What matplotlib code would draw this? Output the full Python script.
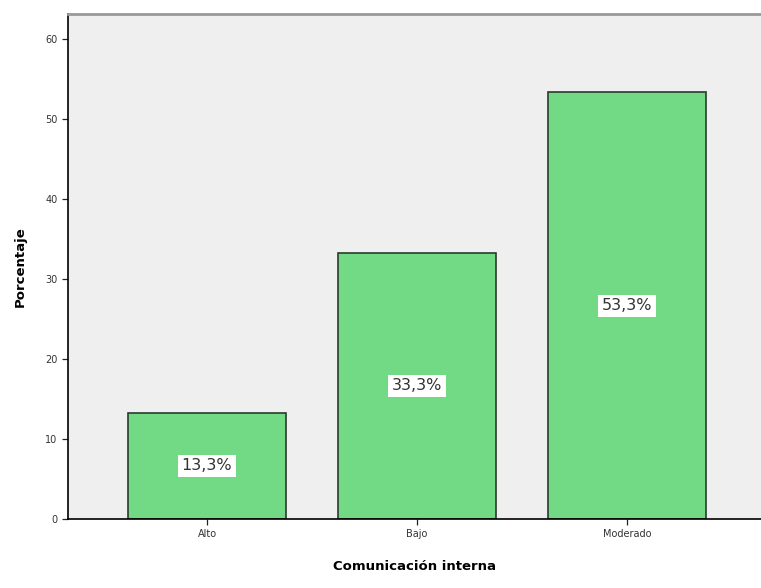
import matplotlib.pyplot as plt

categorias = ['Alto', 'Bajo', 'Moderado']
porcentajes = [13.3, 33.3, 53.3]
yticks = [0, 10, 20, 30, 40, 50, 60]

fig = plt.figure(figsize=(7.61, 5.88), dpi=100)
ax = fig.add_axes([0.0894, 0.1173, 0.9106, 0.8589])
ax.set_facecolor('#efefef')

pos = range(len(categorias))
barras = ax.bar(pos, porcentajes, width=0.75, color='#72d985',
                edgecolor='#2b3a2e', linewidth=1.2)

# etiquetas de porcentaje en el centro de cada barra
for b, v in zip(barras, porcentajes):
    ax.text(b.get_x() + b.get_width() / 2, v / 2, f'{v:.1f}%'.replace('.', ','),
            ha='center', va='center', fontsize=11.5, color='#333333',
            bbox=dict(facecolor='white', edgecolor='none', pad=2.5))

ax.set_xlim(-0.662, 2.638)
ax.set_ylim(0, 63.1)
ax.set_xticks(list(pos))
ax.set_xticklabels(categorias, fontsize=7, color='#333333')
ax.set_yticks(yticks)
ax.set_yticklabels([str(t) for t in yticks], fontsize=7, color='#333333')
ax.tick_params(length=4, width=0.9, color='#222222')

ax.spines['right'].set_visible(False)
ax.spines['top'].set_color('#999999')
ax.spines['top'].set_linewidth(2)
ax.spines['left'].set_linewidth(1.2)
ax.spines['bottom'].set_linewidth(1.2)

ax.set_xlabel('Comunicación interna', fontsize=9.5, fontweight='bold', labelpad=15)
ax.set_ylabel('Porcentaje', fontsize=9.5, fontweight='bold', labelpad=13)

fig.savefig('out.png', dpi=100)
